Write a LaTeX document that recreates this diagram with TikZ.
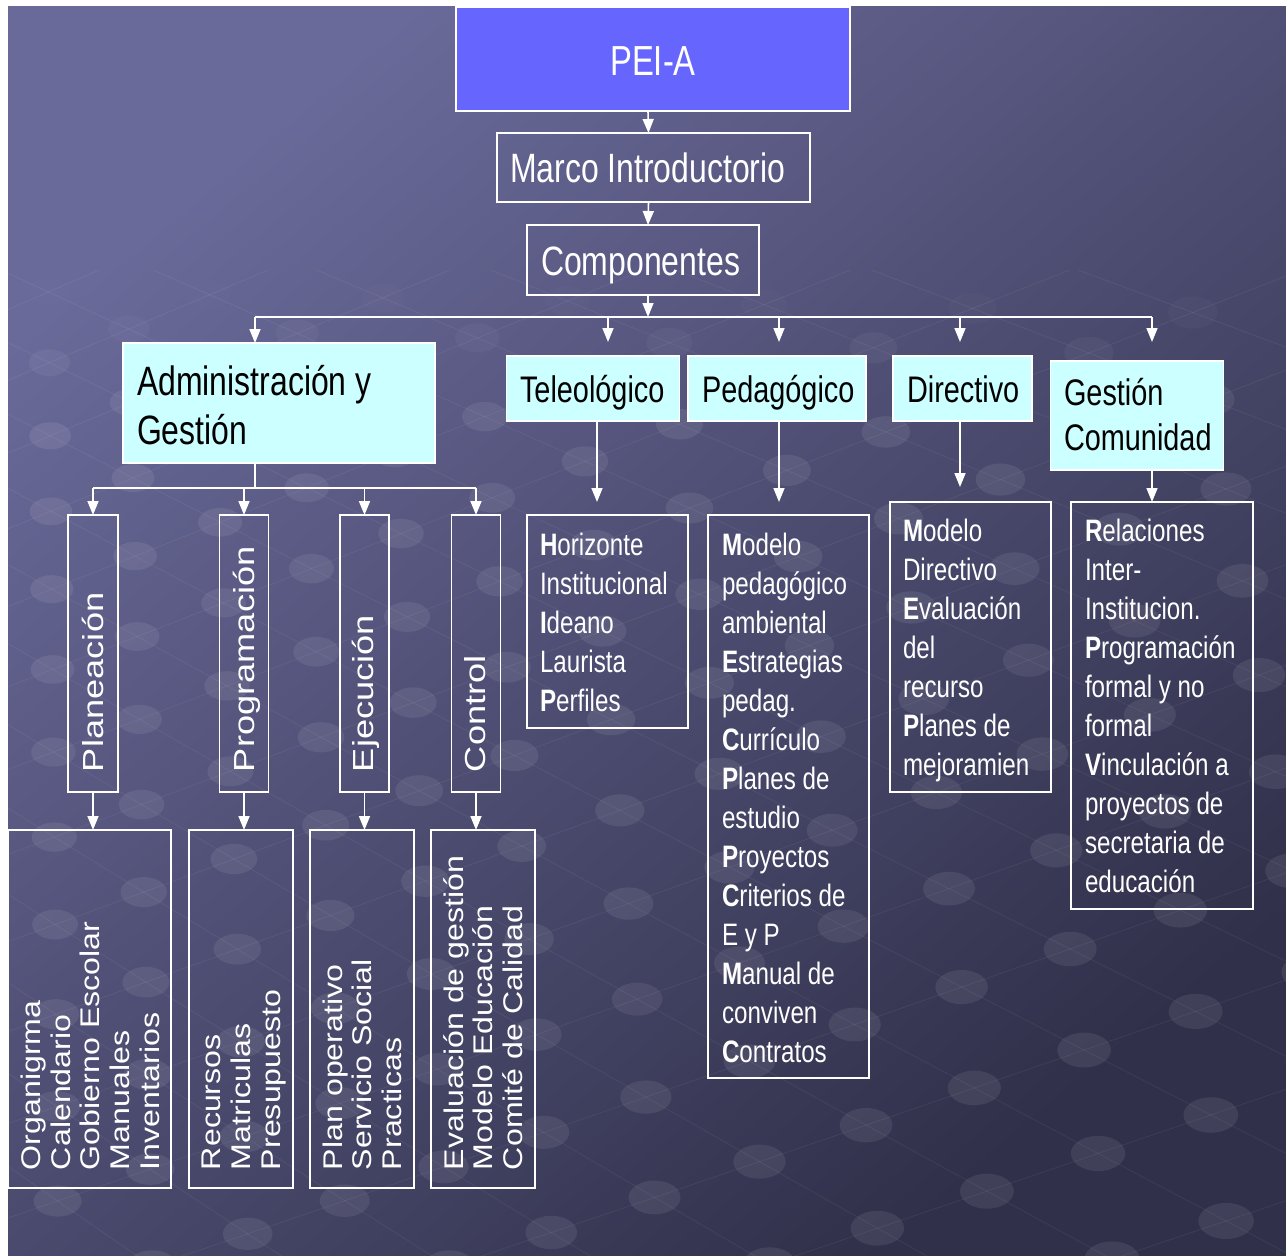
\documentclass[tikz,border=0pt]{standalone}
\usepackage{fontspec}
\setmainfont{Liberation Sans}
\newfontfamily\nar[FakeStretch=0.78]{Liberation Sans}
\newfontfamily\wideA[FakeStretch=1.25]{Liberation Sans}
\newfontfamily\wideB[FakeStretch=1.19]{Liberation Sans}
\usetikzlibrary{arrows.meta}
\definecolor{bgA}{HTML}{6A6A9A}
\definecolor{bgB}{HTML}{30304A}
\definecolor{peib}{HTML}{6666FF}
\definecolor{cyanb}{HTML}{CCFFFF}
\newcommand\bgmap[2]{%
  \pgfmathsetmacro\bgF{1+((#1)+(#2)-300)/4000}%
  \pgfmathsetmacro\bgX{(#1)*\bgF}%
  \pgfmathsetmacro\bgY{300+((#2)-300)*\bgF}}
\begin{document}
\begin{tikzpicture}[x=1pt,y=-1pt,
  bx/.style={draw=white, line width=1.6pt, inner sep=0pt, outer sep=0pt, anchor=north west},
  arr/.style={draw=white, line width=1.6pt, -{Triangle[width=11pt,length=14pt]}},
  ln/.style={draw=white, line width=1.6pt},
  tx/.style={inner sep=0pt, outer sep=0pt, anchor=base west, text=white},
  big/.style={font=\nar\fontsize{41}{41}\selectfont},
  mid/.style={font=\nar\fontsize{37}{37}\selectfont},
  lst/.style={font=\nar\fontsize{31}{31}\selectfont},
  vhead/.style={font=\wideA\fontsize{29}{29}\selectfont, rotate=90},
  vlist/.style={font=\wideB\fontsize{27}{27}\selectfont, rotate=90},
  gridln/.style={draw=white, draw opacity=0.06, line width=0.8pt},
]
\useasboundingbox (0,0) rectangle (1286,1256);
\fill[white] (0,0) rectangle (1286,1256);
\shade[top color=bgA, bottom color=bgB, shading angle=40] (8,6) rectangle (1286,1256);

% background dot lattice (perspective)
\begin{scope}
  \clip (8,270) rectangle (1286,1256);
  \foreach \i in {-14,...,24}{
    \foreach \j in {-14,...,14}{
      \pgfmathsetmacro\rx{48+76*\i+76*\j}
      \pgfmathsetmacro\ry{568+36*\i-33*\j}
      \bgmap{\rx}{\ry}
      \let\px\bgX \let\py\bgY \let\pf\bgF
      \pgfmathsetmacro\rx{48+76*(\i+1)+76*\j}
      \pgfmathsetmacro\ry{568+36*(\i+1)-33*\j}
      \bgmap{\rx}{\ry}
      \let\qx\bgX \let\qy\bgY
      \pgfmathsetmacro\rx{48+76*\i+76*(\j+1)}
      \pgfmathsetmacro\ry{568+36*\i-33*(\j+1)}
      \bgmap{\rx}{\ry}
      \let\ux\bgX \let\uy\bgY
      \draw[gridln] (\qx,\qy) -- (\px,\py) -- (\ux,\uy);
      \pgfmathsetmacro\op{0.08*min(1,max(0,(\py-270)/150))}
      \fill[white, fill opacity=\op] (\px,\py) ellipse [x radius=20*\pf, y radius=13*\pf];
    }
  }
\end{scope}

% boxes
\node[bx, fill=peib, minimum width=394pt, minimum height=104pt] (pei) at (456,7) {};
\node[bx, minimum width=313pt, minimum height=69pt] (marco) at (497,133) {};
\node[bx, minimum width=232pt, minimum height=70pt] (comp) at (527,225) {};
\node[bx, fill=cyanb, minimum width=312pt, minimum height=120pt] (admin) at (123,343) {};
\node[bx, fill=cyanb, minimum width=173pt, minimum height=65pt] (teleo) at (506.5,356) {};
\node[bx, fill=cyanb, minimum width=178pt, minimum height=65pt] (pedag) at (688,356) {};
\node[bx, fill=cyanb, minimum width=139pt, minimum height=65pt] (direc) at (893,356) {};
\node[bx, fill=cyanb, minimum width=173pt, minimum height=109pt] (gesc) at (1050.5,361) {};

\node[bx, minimum width=50pt, minimum height=277pt] (plan) at (68,515) {};
\node[bx, minimum width=49pt, minimum height=277pt] (prog) at (219.5,515) {};
\node[bx, minimum width=49pt, minimum height=277pt] (ejec) at (340,515) {};
\node[bx, minimum width=49pt, minimum height=277pt] (ctrl) at (451.5,515) {};

\node[bx, minimum width=163pt, minimum height=358pt] (b1) at (8,830) {};
\node[bx, minimum width=104pt, minimum height=358pt] (b2) at (189,830) {};
\node[bx, minimum width=104pt, minimum height=358pt] (b3) at (310,830) {};
\node[bx, minimum width=104pt, minimum height=358pt] (b4) at (431,830) {};

\node[bx, minimum width=161pt, minimum height=213pt] (hor) at (527,515) {};
\node[bx, minimum width=161pt, minimum height=563pt] (ped) at (708,515) {};
\node[bx, minimum width=161pt, minimum height=290pt] (dir) at (890,502) {};
\node[bx, minimum width=182pt, minimum height=407pt] (ges) at (1071,502) {};

% connectors
\draw[arr] ([xshift=-5pt]pei.south) -- ([xshift=-5pt]marco.north);
\draw[arr] ([xshift=-5pt]marco.south) -- ([xshift=5pt]comp.north);
\coordinate (j1) at (648,317);
\coordinate (hl) at (255,317);
\coordinate (hr) at (1152,317);
\draw[arr] ([xshift=5pt]comp.south) -- (j1);
\draw[ln] (hl) -- (hr);
\draw[arr] (hl) -- (hl |- admin.north);
\coordinate (a2) at (608,317);
\coordinate (a3) at (779,317);
\coordinate (a4) at (960,317);
\draw[arr] (a2) -- ++(0,25);
\draw[arr] (a3) -- ++(0,25);
\draw[arr] (a4) -- ++(0,25);
\draw[arr] (hr) -- ++(0,25);

\coordinate (s) at (0,488);
\draw[ln] ([xshift=-24pt]admin.south) -- ([xshift=-24pt]admin.south |- s);
\draw[ln] (plan.north |- s) -- (ctrl.north |- s);
\foreach \b in {plan,prog,ejec,ctrl}{
  \draw[arr] (\b.north |- s) -- (\b.north);
}
\draw[arr] (plan.south) -- (plan.south |- b1.north);
\draw[arr] (prog.south) -- (prog.south |- b2.north);
\draw[arr] (ejec.south) -- (ejec.south |- b3.north);
\draw[arr] (ctrl.south) -- (ctrl.south |- b4.north);

\draw[arr] ([xshift=4pt]teleo.south) -- ++(0,81);
\draw[arr] ([xshift=2pt]pedag.south) -- ++(0,81);
\draw[arr] ([xshift=-2.5pt]direc.south) -- ++(0,66);
\draw[arr] ([xshift=15pt]gesc.south) -- ([xshift=15pt]gesc.south |- ges.north);

% texts
\node[tx, anchor=base, font=\nar\fontsize{42}{42}\selectfont] (tpei) at (653,75) {PEI-A};
\node[tx, big] (tmarco) at (510,182) {Marco Introductorio};
\node[tx, big] (tcomp) at (541,275) {Componentes};
\node[tx, big, text=black] (tadm1) at (137,395) {Administración y};
\node[tx, big, text=black] (tadm2) at (137,444) {Gestión};
\node[tx, mid, text=black] (tteleo) at (520,402) {Teleológico};
\node[tx, mid, text=black] (tpedag) at (702,402) {Pedagógico};
\node[tx, mid, text=black] (tdirec) at (907,402) {Directivo};
\node[tx, mid, text=black] (tgesc1) at (1064,405) {Gestión};
\node[tx, mid, text=black] (tgesc2) at (1064,450) {Comunidad};

\node[tx, vhead] (tplan) at (103,772) {Planeación};
\node[tx, vhead] (tprog) at (254.8,772) {Programación};
\node[tx, vhead] (tejec) at (373.6,772) {Ejecución};
\node[tx, vhead] (tctrl) at (485.5,772) {Control};

\foreach \x/\t [count=\i] in {40.6/Organigrma, 70.6/Calendario, 99.9/Gobierno Escolar, 129/Manuales, 159/Inventarios}
  \node[tx, vlist] (ta\i) at (\x,1170) {\t};
\foreach \x/\t [count=\i] in {220/Recursos, 250/Matriculas, 280.6/Presupuesto}
  \node[tx, vlist] (tb\i) at (\x,1170) {\t};
\foreach \x/\t [count=\i] in {342.6/Plan operativo, 371.9/Servicio Social, 401/Practicas}
  \node[tx, vlist] (tc\i) at (\x,1170) {\t};
\foreach \x/\t [count=\i] in {463/Evaluación de gestión, 492.4/Modelo Educación, 522.7/Comité de Calidad}
  \node[tx, vlist] (td\i) at (\x,1170) {\t};

\foreach \t [count=\i from 0] in {\textbf{H}orizonte, Institucional, \textbf{I}deano, Laurista, \textbf{P}erfiles}
  \node[tx, lst] (th\i) at (540,555+39*\i) {\t};
\foreach \t [count=\i from 0] in {\textbf{M}odelo, pedagógico, ambiental, \textbf{E}strategias, pedag., \textbf{C}urrículo, \textbf{P}lanes de, estudio, \textbf{P}royectos, \textbf{C}riterios de, E y P, \textbf{M}anual de, conviven, \textbf{C}ontratos}
  \node[tx, lst] (tp\i) at (722,555+39*\i) {\t};
\foreach \t [count=\i from 0] in {\textbf{M}odelo, Directivo, \textbf{E}valuación, del, recurso, \textbf{P}lanes de, mejoramien}
  \node[tx, lst] (tdi\i) at (903,541+39*\i) {\t};
\foreach \t [count=\i from 0] in {\textbf{R}elaciones, Inter-, Institucion., \textbf{P}rogramación, formal y no, formal, \textbf{V}inculación a, proyectos de, secretaria de, educación}
  \node[tx, lst] (tg\i) at (1085,541+39*\i) {\t};
\end{tikzpicture}
\end{document}
